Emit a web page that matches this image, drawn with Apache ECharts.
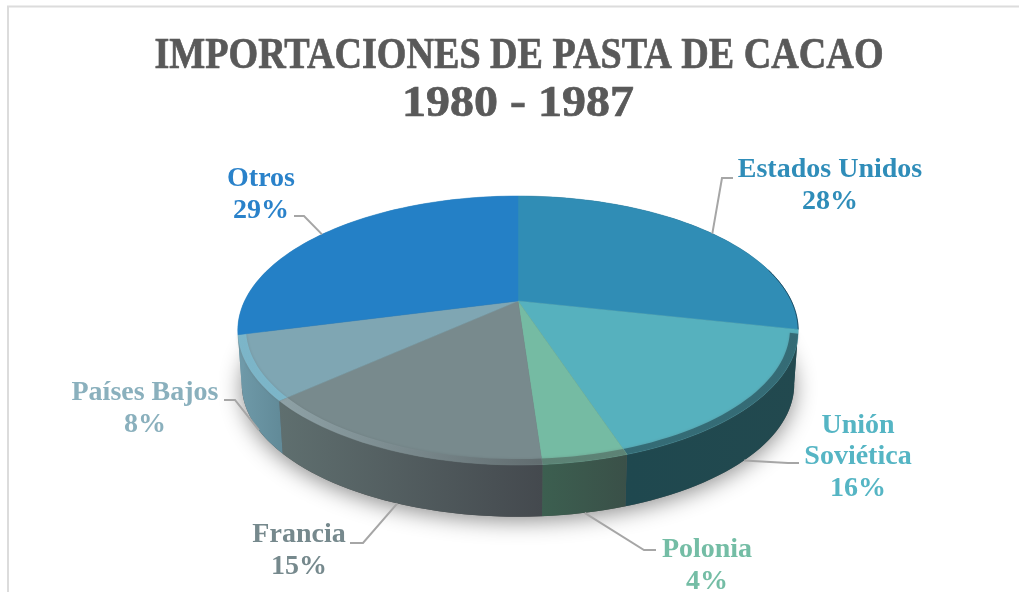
<!DOCTYPE html>
<html>
<head>
<meta charset="utf-8">
<style>
  html, body { margin: 0; padding: 0; background: #fff; }
  #chart { width: 1019px; height: 592px; }
</style>
<script src="https://cdn.jsdelivr.net/npm/echarts@6/dist/echarts.min.js"></script>
</head>
<body>
<div id="chart"></div>
<script>
const titleLines = ["IMPORTACIONES DE PASTA DE CACAO", "1980 - 1987"];
const categories = ["Estados Unidos", "Unión\nSoviética", "Polonia", "Francia", "Países Bajos", "Otros"];
const values = [28.4, 16.49, 4, 14.51, 7.59, 29.01];

// styles, same order as categories
const topColors = ["#308db5", "#56b1be", "#75bba3", "#788a8d", "#7fa6b3", "#2480c6"];
const labelColors = ["#2f8db9", "#55b5c4", "#74bda5", "#76898d", "#8ab0bd", "#2a82ca"];
const sideColors = [
  ["#245064", "#22464f"],
  ["#1f484f", "#22494f"],
  ["#3c5f50", "#3a5048"],
  ["#5f6f6f", "#44494e"],
  ["#6f9aa9", "#628b99"],
  ["#6f9aa9", "#6f9aa9"]
];
// bevel colour at the slice's left and right end
const rimColors = [
  ["rgba(30,75,95,0.7)", "rgba(30,75,95,0.7)"],
  ["rgba(45,95,105,0.8)", "rgba(45,95,105,0.8)"],
  ["rgba(90,125,112,0.85)", "rgba(90,125,112,0.85)"],
  ["rgba(150,170,175,0.8)", "rgba(95,105,108,0.85)"],
  ["rgba(125,185,205,0.9)", "rgba(125,185,205,0.9)"],
  ["rgba(30,135,225,0.9)", "rgba(30,135,225,0.9)"]
];
// label centre, leader shift along the rim (in %), elbow and end
const labelLayout = [
  { x: 830, y: 186, shift: 0.65, elbow: [722, 178], end: [733, 178], onBase: false },
  { x: 858, y: 457, shift: 0.8, elbow: [788, 463], end: [799, 463], onBase: true },
  { x: 707, y: 566, shift: 0, elbow: [644, 550], end: [656, 550], onBase: true },
  { x: 299, y: 551, shift: -0.35, elbow: [363, 543], end: [350, 543], onBase: true },
  { x: 145, y: 409, shift: -1, elbow: [235, 400], end: [224, 400], onBase: true },
  { x: 261, y: 195, shift: -0.5, elbow: [304, 216], end: [294, 216], onBase: false }
];

const apex = [518, 301];
const polarRadius = 100;
const tilt = 0.219;
const topFace = { a: 273.4, b: 128, dy: 0 };
const baseFace = { a: 269.5, b: 126, dy: 54.4 };

const total = values.reduce((s, v) => s + v, 0);
let running = 0;
const sliceData = values.map((v) => {
  const row = [v, running, running + v];
  running += v;
  return row;
});

// polar point -> tilted disc
const project = (api, pct, face, r = 1) => {
  const p = api.coord([r, pct]);
  const X = (p[0] - apex[0]) / polarRadius;
  const Y = (apex[1] - p[1]) / polarRadius;
  const w = 1 + tilt * Y;
  return [apex[0] + (face.a * X) / w, apex[1] + face.dy - (face.b * Y) / w];
};

const arc = (api, from, to, face, r = 1) => {
  const pts = [];
  const n = Math.max(2, Math.ceil(Math.abs(to - from) * 2));
  for (let i = 0; i <= n; i++) pts.push(project(api, from + ((to - from) * i) / n, face, r));
  return pts;
};

const sweep = (pts, left, right) => {
  const xs = pts.map((p) => p[0]);
  return {
    type: "linear",
    global: true,
    x: Math.min(...xs),
    y: 0,
    x2: Math.max(...xs),
    y2: 0,
    colorStops: [
      { offset: 0, color: left },
      { offset: 1, color: right }
    ]
  };
};

const renderSides = (params, api) => {
  const i = params.dataIndex;
  const from = api.value(1);
  const to = api.value(2);
  const upper = arc(api, from, to, topFace);
  const lower = arc(api, to, from, baseFace);
  const children = [];
  if (i === 0) {
    children.push({
      type: "polygon",
      shape: { points: arc(api, 0, total, baseFace) },
      style: { fill: "#555", shadowBlur: 22, shadowColor: "rgba(0,0,0,0.45)", shadowOffsetY: 4, shadowOffsetX: 0 }
    });
  }
  children.push({
    type: "polygon",
    shape: { points: upper.concat(lower) },
    style: { fill: sweep(upper, sideColors[i][0], sideColors[i][1]) }
  });
  return { type: "group", children };
};

const renderTops = (params, api) => {
  const i = params.dataIndex;
  const from = api.value(1);
  const to = api.value(2);
  const rim = arc(api, from, to, topFace);
  const children = [
    {
      type: "polygon",
      shape: { points: [apex].concat(rim) },
      style: { fill: topColors[i], stroke: topColors[i], lineWidth: 0.5 }
    }
  ];
  // soft bevel: a band hugging the visible front rim
  const keep = (p) => p[1] > apex[1] + 30;
  const outer = rim.filter(keep);
  const inner = arc(api, to, from, topFace, 0.972).filter(keep);
  if (outer.length > 1 && inner.length > 1) {
    children.push({
      type: "polygon",
      shape: { points: outer.concat(inner) },
      style: {
        fill: sweep(outer, rimColors[i][0], rimColors[i][1]),
        shadowBlur: 3,
        shadowColor: "rgba(80,90,92,0.3)"
      }
    });
  }
  if (i === 0) {
    // dark edge towards the right tip
    children.push({
      type: "polyline",
      shape: { points: rim.filter((p) => p[0] > 765) },
      style: { fill: null, stroke: "rgba(20,55,75,0.7)", lineWidth: 1 }
    });
  }
  return { type: "group", children };
};

const renderLabels = (params, api) => {
  const i = params.dataIndex;
  const layout = labelLayout[i];
  const mid = (api.value(1) + api.value(2)) / 2 + layout.shift;
  const start = project(api, mid, layout.onBase ? baseFace : topFace);
  return {
    type: "group",
    children: [
      {
        type: "polyline",
        shape: { points: [start, layout.elbow, layout.end] },
        style: { fill: null, stroke: "#a6a6a6", lineWidth: 2 }
      },
      {
        type: "text",
        x: layout.x,
        y: layout.y,
        style: {
          text: `${categories[i]}\n${Math.round((api.value(0) / total) * 100)}%`,
          fill: labelColors[i],
          font: 'bold 28px "Liberation Serif"',
          lineHeight: 31.5,
          align: "center",
          verticalAlign: "middle"
        }
      }
    ]
  };
};

const customSeries = (name, renderItem) => ({
  name,
  type: "custom",
  coordinateSystem: "polar",
  silent: true,
  data: sliceData,
  renderItem
});

const titleStyle = (text, size) => ({
  text,
  fill: "#595959",
  stroke: "#595959",
  lineWidth: 0.7,
  font: `bold ${size}px "Liberation Serif"`,
  align: "center",
  verticalAlign: "middle"
});

const chart = echarts.init(document.getElementById("chart"), null, { renderer: "canvas" });
chart.setOption({
  animation: false,
  backgroundColor: "#fff",
  graphic: [
    {
      type: "rect",
      silent: true,
      shape: { x: 8, y: 6.5, width: 1100, height: 640 },
      style: { fill: null, stroke: "#dcdcdc", lineWidth: 2 }
    },
    { type: "text", silent: true, x: 519, y: 57, scaleX: 0.866, style: titleStyle(titleLines[0], 44) },
    { type: "text", silent: true, x: 518, y: 105, scaleX: 1.09, style: titleStyle(titleLines[1], 44) }
  ],
  polar: { center: apex, radius: polarRadius },
  angleAxis: {
    show: false,
    type: "value",
    min: 0,
    max: total,
    startAngle: 90,
    clockwise: true
  },
  radiusAxis: { show: false, type: "value", min: 0, max: 1 },
  series: [
    customSeries("lados", renderSides),
    customSeries("sectores", renderTops),
    customSeries("etiquetas", renderLabels)
  ]
});
</script>
</body>
</html>
